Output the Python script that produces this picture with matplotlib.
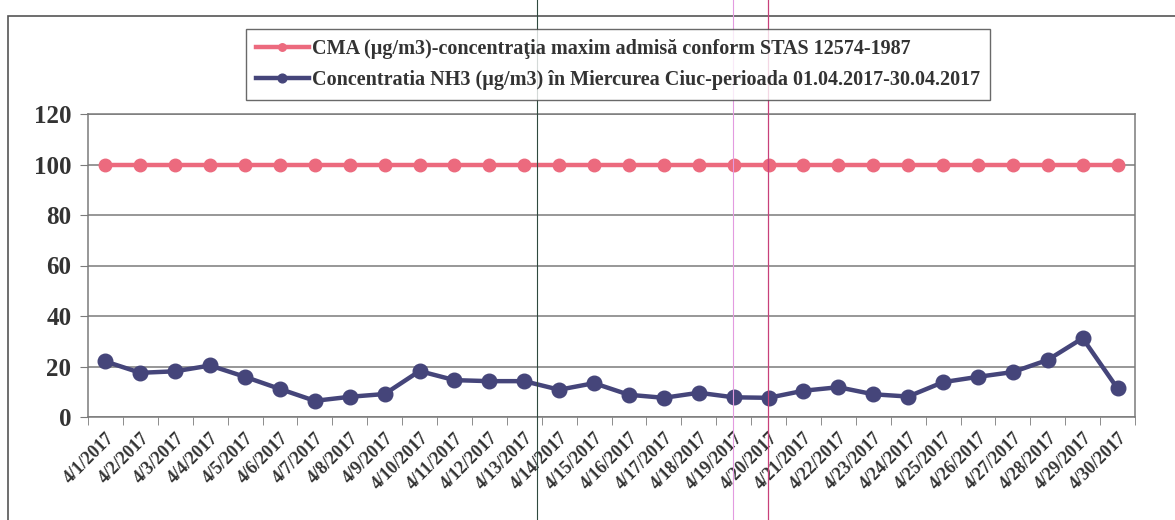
import matplotlib.pyplot as plt
from matplotlib.lines import Line2D
from matplotlib.patches import Rectangle

# data
dates = ['4/%d/2017' % d for d in range(1, 31)]
cma = [100] * 30
nh3 = [22, 17.5, 18.1, 20.4, 15.9, 11.1, 6.4, 8, 9.1, 18.2,
       14.6, 14.2, 14.2, 10.8, 13.4, 8.8, 7.6, 9.6, 7.8, 7.6,
       10.4, 11.8, 9.0, 8.1, 13.8, 15.9, 17.8, 22.6, 31.2, 11.3]
y_ticks = [0, 20, 40, 60, 80, 100, 120]

label_cma = 'CMA (µg/m3)-concentraţia maxim admisă conform STAS 12574-1987'
label_nh3 = 'Concentratia NH3 (µg/m3) în Miercurea Ciuc-perioada 01.04.2017-30.04.2017'

pink = '#EC6A7E'
navy = '#45457A'
grid_c = '#7a7a7a'

plt.rcParams['font.family'] = ['Liberation Serif', 'DejaVu Serif']
plt.rcParams['font.weight'] = 'bold'

fig = plt.figure(figsize=(11.75, 5.2), dpi=100)
ax = fig.add_axes([88 / 1175, 1 - 417 / 520, (1135 - 88) / 1175, (417 - 114) / 520])

x = list(range(len(dates)))
ax.plot(x, cma, color=pink, lw=3.2, marker='o', ms=9, label=label_cma, zorder=3)
ax.plot(x, nh3, color=navy, lw=3.2, marker='o', ms=10.5, label=label_nh3, zorder=3)

ax.set_xlim(-0.5, len(dates) - 0.5)
ax.set_ylim(0, 120)
ax.set_yticks(y_ticks)
ax.set_yticklabels([str(v) for v in y_ticks], fontsize=18, fontweight='bold', color='#333333')
ax.yaxis.grid(True, color=grid_c, lw=1.1)
ax.set_axisbelow(True)

ax.set_xticks(x)
ax.set_xticklabels(dates, rotation=45, ha='right', rotation_mode='anchor',
                   fontsize=13, fontweight='bold', color='#333333')
ax.set_xticks([i - 0.5 for i in range(len(dates) + 1)], minor=True)
ax.tick_params(axis='x', which='major', length=0, pad=9)
ax.tick_params(axis='x', which='minor', length=6, color=grid_c, direction='out')
ax.tick_params(axis='y', length=6, color=grid_c, direction='out', pad=6)
for s in ax.spines.values():
    s.set_color(grid_c)
    s.set_linewidth(1.1)

leg = fig.legend(loc='upper center', bbox_to_anchor=(618 / 1175, 1 - 29 / 520),
                 frameon=True, fancybox=False, handlelength=2.6,
                 prop={'weight': 'bold', 'size': 14.5}, borderpad=0.5,
                 labelspacing=0.55, handletextpad=0.15, markerscale=0.6,
                 borderaxespad=0)
leg.get_frame().set_edgecolor('#444444')
leg.get_frame().set_linewidth(1.0)
for t in leg.get_texts():
    t.set_color('#333333')

# outer chart border (cut off at the right and bottom of the scan)
fig.patches.append(Rectangle((8 / 1175, -0.2), 1.2, 1.2 - 16 / 520, transform=fig.transFigure,
                             fill=False, edgecolor='#555555', lw=1.2))

# scanner streaks visible on the page
fig.lines.append(Line2D([537 / 1175] * 2, [0, 1], transform=fig.transFigure, color='#2f4a3f', lw=0.8))
fig.lines.append(Line2D([733 / 1175] * 2, [0, 1], transform=fig.transFigure, color='#e39be0', lw=0.8))
fig.lines.append(Line2D([768 / 1175] * 2, [0, 1], transform=fig.transFigure, color='#c8407a', lw=0.9))

fig.savefig('out.png', dpi=100)
